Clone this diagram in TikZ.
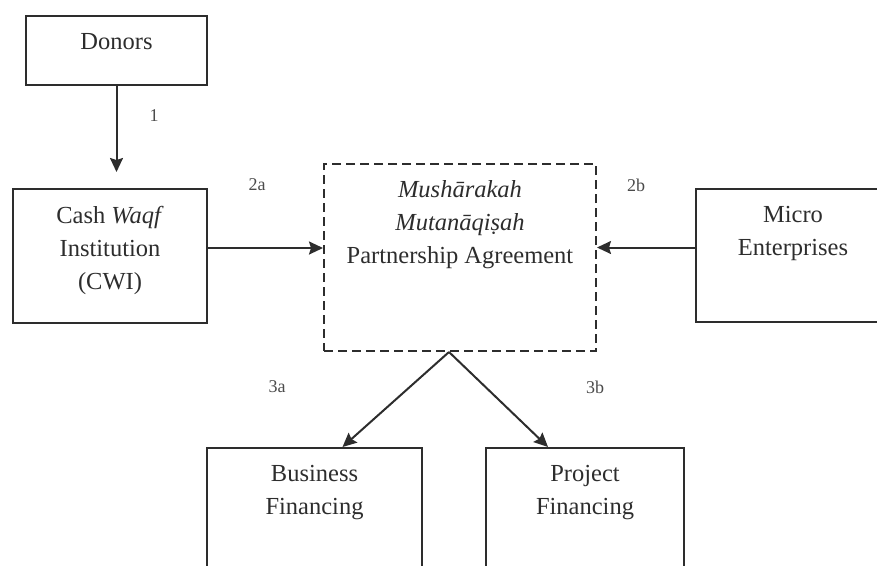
\documentclass[tikz,border=0pt]{standalone}
\usepackage{fontspec}
\setmainfont{Liberation Serif}
\usetikzlibrary{arrows.meta, positioning}
\definecolor{Ink}{RGB}{45, 45, 45}
\definecolor{Grey70}{RGB}{75, 75, 75}
\tikzset{
    casella/.style = {draw=Ink, line width=2pt, inner sep=0pt, anchor=north west},
    testo/.style = {align=center, inner sep=0pt, anchor=north, text=Ink, font=\fontsize{24.5}{33}\selectfont},
    freccia/.style = {draw=Ink, line width=2pt, arrows = {-Stealth[length=14pt, width=13pt, inset=2pt]}}
}
\begin{document}
\begin{tikzpicture}[
        x=1pt, y=-1pt,
        numero/.style = {text=Grey70, font=\fontsize{18}{21}\selectfont, inner sep=0pt},
        tratteggio/.style = {dash pattern=on 9pt off 5pt}
    ]
    \useasboundingbox (0,0) rectangle (877,565);

    % boxes
    \node[casella, minimum width=181pt, minimum height=69pt]  (donors)   at (25,15)   {};
    \node[casella, minimum width=194pt, minimum height=134pt] (cwi)      at (12,188)  {};
    \node[casella, tratteggio, minimum width=272pt, minimum height=187pt] (accordo) at (323,163) {};
    \node[casella, minimum width=200pt, minimum height=133pt] (micro)    at (695,188) {};
    \node[casella, minimum width=215pt, minimum height=160pt] (business) at (206,447) {};
    \node[casella, minimum width=198pt, minimum height=160pt] (project)  at (485,447) {};

    % texts
    \node[testo] (donorsT)   at ([yshift=-18pt]donors.north)   {Donors};
    \node[testo] (cwiT)      at ([yshift=-18pt]cwi.north)      {Cash \emph{Waqf} \\ Institution \\ (CWI)};
    \node[testo] (accordoT)  at ([yshift=-17pt]accordo.north)  {\emph{Mushārakah} \\ \emph{Mutanāqiṣah} \\ Partnership Agreement};
    \node[testo] (microT)    at ([xshift=-3pt, yshift=-18pt]micro.north) {Micro \\ Enterprises};
    \node[testo] (businessT) at ([yshift=-18pt]business.north) {Business \\ Financing};
    \node[testo] (projectT)  at ([yshift=-18pt]project.north)  {Project \\ Financing};

    % arrows
    \draw[freccia, shorten >=16pt] (donors.south) -- (donors.south |- cwi.north);
    \draw[freccia] ([yshift=8pt]cwi.east) -- ([yshift=8pt]cwi.east -| accordo.west);
    \draw[freccia] ([yshift=8pt]micro.west) -- ([yshift=8pt]micro.west -| accordo.east);
    \draw[freccia] ([xshift=-11pt]accordo.south) -- ([xshift=28pt]business.north);
    \draw[freccia] ([xshift=-11pt]accordo.south) -- ([xshift=-37pt]project.north);

    \node[numero] (n1)  at (154,116) {1};
    \node[numero] (n2a) at (257,185) {2a};
    \node[numero] (n2b) at (636,185) {2b};
    \node[numero] (n3a) at (277,387) {3a};
    \node[numero] (n3b) at (595,387) {3b};

\end{tikzpicture}
\end{document}
